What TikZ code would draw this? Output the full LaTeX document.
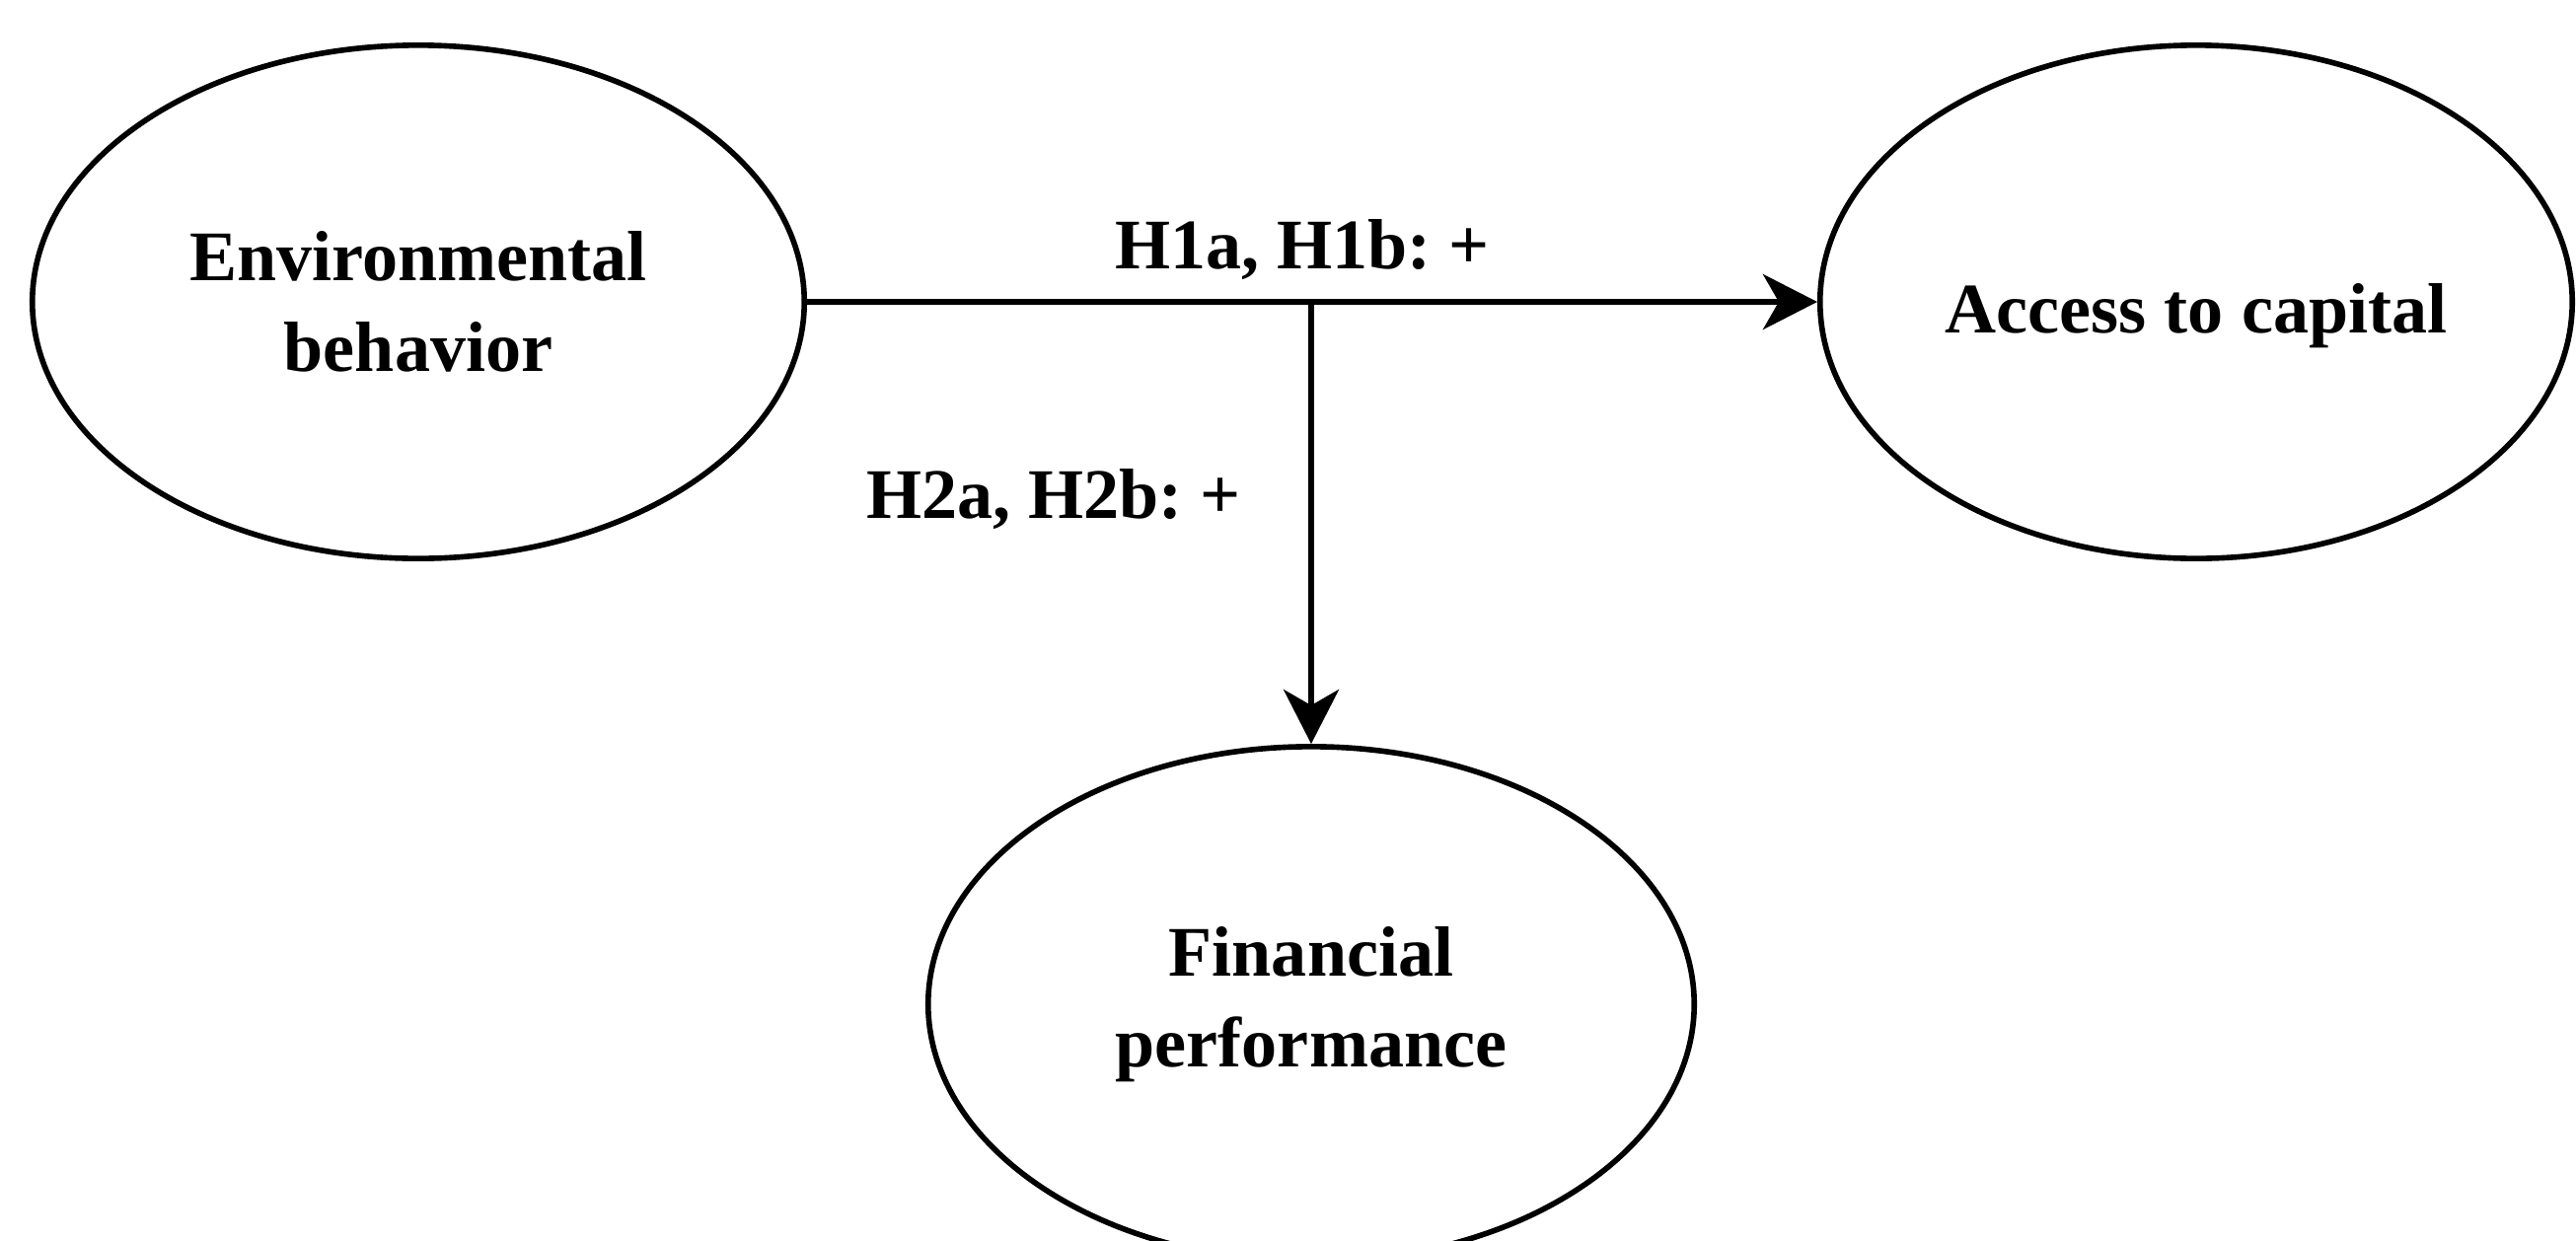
\documentclass[tikz,border=0pt]{standalone}
\usepackage{fontspec}
\setmainfont{Liberation Serif}
\frenchspacing
\usetikzlibrary{shapes.geometric,arrows.meta}
\begin{document}
\begin{tikzpicture}[x=0.01cm,y=-0.01cm,
  construct/.style={draw, ellipse, line width=1.6pt, inner sep=0pt, align=center,
    font=\fontsize{20.5}{26}\selectfont\bfseries},
  link/.style={line width=1.6pt, -{Stealth[length=0.55cm,width=0.56cm,inset=0.16cm]}},
  hyp/.style={font=\fontsize{20.5}{26}\selectfont\bfseries, anchor=base, inner sep=0pt}]
\useasboundingbox (0,0) rectangle (2611,1257);
\node[construct, minimum width=7.82cm, minimum height=5.2cm] (env) at (424,306) {Environmental\\behavior};
\node[construct, minimum width=7.62cm, minimum height=5.2cm] (acc) at (2226,306) {\raisebox{-0.14cm}[\height][\depth]{Access to capital}};
\node[construct, minimum width=7.76cm, minimum height=5.22cm] (fin) at (1329,1018) {Financial\\performance};
\coordinate (j) at (fin.north |- env.east);
\draw[link] (env.east) -- (acc.west);
\draw[link] (j) -- (fin.north);
\node[hyp] (h1) at (1320,272) {H1a, H1b: +};
\node[hyp] (h2) at (1068,525) {H2a, H2b: +};
\end{tikzpicture}
\end{document}
